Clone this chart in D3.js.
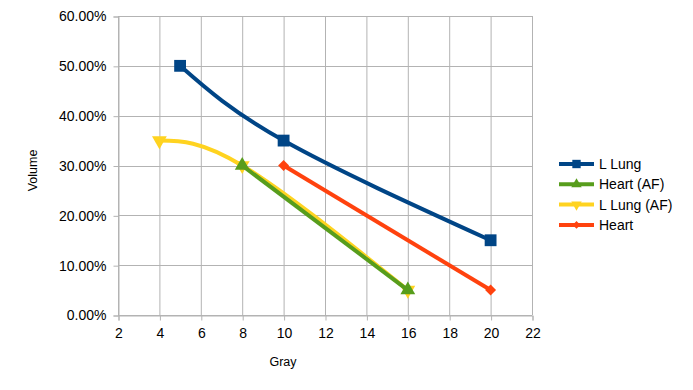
<!DOCTYPE html>
<html><head><meta charset="utf-8">
<script src="https://cdn.jsdelivr.net/npm/d3@7"></script>
<style>body{margin:0;background:#fff}svg{display:block}text{font-family:"Liberation Sans",Arial,sans-serif;fill:#000}</style>
</head><body><svg id="c" width="693" height="390"></svg>
<script>
const seriesNames = ["L Lung","Heart (AF)","L Lung (AF)","Heart"];
const seriesColors = ["#004586","#579d1c","#ffd320","#ff420e"];
const seriesMarkers = ["square","triangle","triangleDown","diamond"];
const seriesSmooth = [true,false,true,false];
const lLungX = [5,10,20], lLungY = [0.50,0.35,0.15];
const heartAFX = [8,16], heartAFY = [0.30,0.05];
const lLungAFX = [4,8,16], lLungAFY = [0.35,0.30,0.05];
const heartX = [10,20], heartY = [0.30,0.05];
const xTicks = [2,4,6,8,10,12,14,16,18,20,22];
const yTicks = [0,0.1,0.2,0.3,0.4,0.5,0.6];
const seriesX = [lLungX,heartAFX,lLungAFX,heartX];
const seriesY = [lLungY,heartAFY,lLungAFY,heartY];

const svg = d3.select("#c");
const x = d3.scaleLinear().domain([2,22]).range([118,532]);
const y = d3.scaleLinear().domain([0,0.6]).range([315,16]);

const g = svg.append("g");
g.selectAll(".vg").data(xTicks).join("line").attr("x1",d=>x(d)+0.5).attr("x2",d=>x(d)+0.5)
 .attr("y1",y(0.6)).attr("y2",y(0)).attr("stroke","#b3b3b3");
g.selectAll(".hg").data(yTicks).join("line").attr("y1",d=>Math.round(y(d))+0.5).attr("y2",d=>Math.round(y(d))+0.5)
 .attr("x1",x(2)).attr("x2",x(22)).attr("stroke","#b3b3b3");

const fmt = d3.format(".2%");
const xa = svg.append("g").attr("transform",`translate(0.5,${Math.round(y(0))+0.5})`)
 .call(d3.axisBottom(x).tickValues(xTicks).tickSize(5).tickPadding(8));
const ya = svg.append("g").attr("transform",`translate(${x(2)+0.5},0.5)`)
 .call(d3.axisLeft(y).tickValues(yTicks).tickFormat(fmt).tickSize(5).tickPadding(7));
[xa,ya].forEach(a=>{a.select(".domain").attr("stroke","#b3b3b3");a.selectAll(".tick line").attr("stroke","#b3b3b3");
 a.selectAll("text").attr("font-size",14).attr("font-family","Liberation Sans, Arial, sans-serif").attr("fill","#000");});
xa.selectAll("text").attr("dy","0.71em");

svg.append("text").attr("x",283).attr("y",366).attr("text-anchor","middle").attr("font-size",12.5).text("Gray");
svg.append("text").attr("transform","translate(37,170.5) rotate(-90)").attr("text-anchor","middle").attr("font-size",12.5).text("Volume");

const lineSmooth = d3.line().x(d=>x(d[0])).y(d=>y(d[1])).curve(d3.curveNatural);
const lineStraight = d3.line().x(d=>x(d[0])).y(d=>y(d[1]));
const sym = {square:d3.symbolSquare,triangle:d3.symbolTriangle,triangleDown:d3.symbolTriangle,diamond:d3.symbolSquare};
const size = {square:140,triangle:95,triangleDown:95,diamond:60};
const rot = {square:0,triangle:0,triangleDown:180,diamond:45};
const order=[3,2,1,0];
order.forEach(i=>{
  const pts = seriesX[i].map((v,k)=>[v,seriesY[i][k]]);
  svg.append("path").attr("d",(seriesSmooth[i]?lineSmooth:lineStraight)(pts)).attr("fill","none")
   .attr("stroke",seriesColors[i]).attr("stroke-width",4).attr("stroke-linejoin","round");
  const m = seriesMarkers[i];
  svg.selectAll(null).data(pts).join("path")
   .attr("d",d3.symbol().type(sym[m]).size(size[m]))
   .attr("transform",d=>`translate(${x(d[0])},${y(d[1])}) rotate(${rot[m]})`)
   .attr("fill",seriesColors[i]);
});

const lg = svg.append("g");
seriesNames.forEach((n,i)=>{
  const yy = 164+i*20.3;
  lg.append("line").attr("x1",559).attr("x2",594).attr("y1",yy).attr("y2",yy).attr("stroke",seriesColors[i]).attr("stroke-width",4);
  const m=seriesMarkers[i];
  lg.append("path").attr("d",d3.symbol().type(sym[m]).size(size[m]*0.5)).attr("transform",`translate(576.5,${yy}) rotate(${rot[m]})`).attr("fill",seriesColors[i]);
  lg.append("text").attr("x",599).attr("y",yy+5).attr("font-size",14).text(n);
});
</script></body></html>
